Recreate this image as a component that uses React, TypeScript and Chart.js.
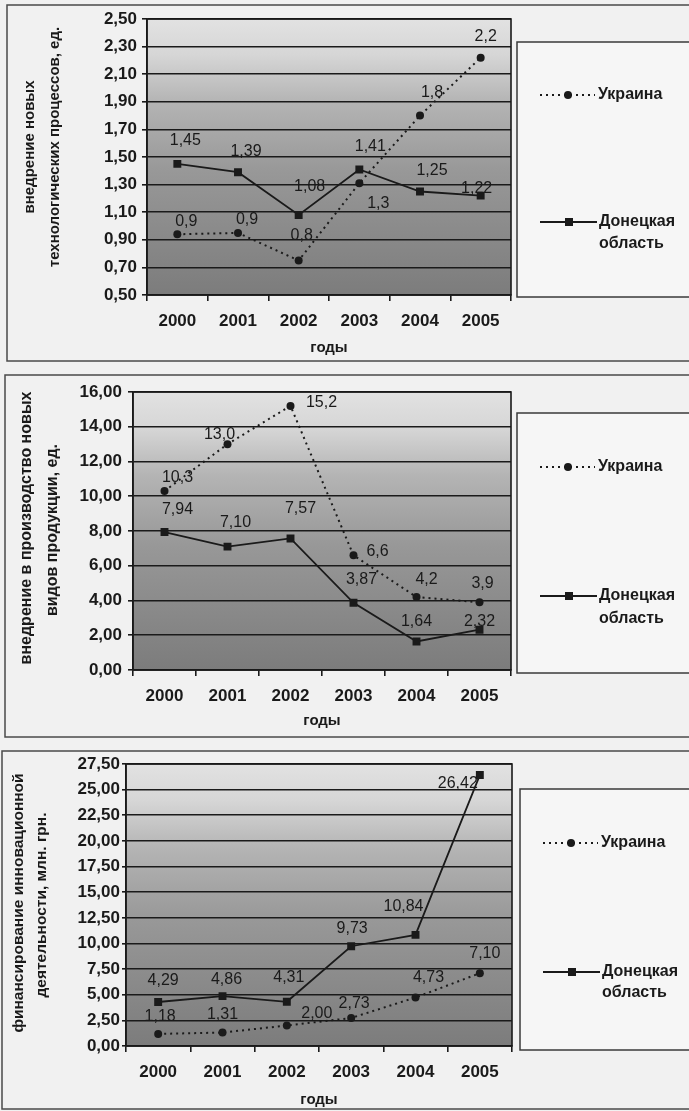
import React, { useEffect, useRef } from "react";
import { Chart, registerables } from "chart.js";

Chart.register(...registerables);

// ---------- data ----------
const years = ["2000", "2001", "2002", "2003", "2004", "2005"];
const seriesNames = ["Украина", "Донецкая", "область"];
const xTitle = "годы";

const techUkraine = [0.94, 0.95, 0.75, 1.31, 1.8, 2.22];
const techDonetsk = [1.45, 1.39, 1.08, 1.41, 1.25, 1.22];
const techTitle = ["внедрение новых", "технологических процессов, ед."];

const prodUkraine = [10.3, 13.0, 15.2, 6.6, 4.2, 3.9];
const prodDonetsk = [7.94, 7.1, 7.57, 3.87, 1.64, 2.32];
const prodTitle = ["внедрение в производство новых", "видов продукции, ед."];

const finUkraine = [1.18, 1.31, 2.0, 2.73, 4.73, 7.1];
const finDonetsk = [4.29, 4.86, 4.31, 9.73, 10.84, 26.42];
const finTitle = ["финансирование инновационной", "деятельности, млн. грн."];

// ---------- styling ----------
const W = 689;
const PAGE_BG = "#f1f1f1";
const INK = "#1a1a1a";
const FONT = "'Liberation Sans', Arial, sans-serif";

const fmt = (v: number, d: number) => v.toFixed(d).replace(".", ",");

type Off = [number, number][];
type Cfg = {
  top: number;
  height: number;
  frame: { x: number; y: number; bottom: number };
  plot: { left: number; right: number; top: number; bottom: number };
  yMin: number;
  yMax: number;
  yStep: number;
  uk: number[];
  dn: number[];
  ukDec: number;
  dnDec: number;
  ukOff: Off;
  dnOff: Off;
  title: string[];
  titlePos: [number, number][];
  titleFont: number;
  xTitleY: number;
  tickLen: number;
  tickPad: number;
  legend: { left: number; top: number; bottom: number; ukY: number; dnY: number; obY: number };
  labelFont: number;
};

const configs: Cfg[] = [
  {
    top: 0,
    height: 368,
    frame: { x: 7, y: 5, bottom: 361 },
    plot: { left: 147, right: 511, top: 19, bottom: 295 },
    yMin: 0.5,
    yMax: 2.5,
    yStep: 0.2,
    uk: techUkraine,
    dn: techDonetsk,
    ukDec: 1,
    dnDec: 2,
    ukOff: [[9, -13], [9, -13], [3, -25], [19, 20], [12, -23], [5, -21]],
    dnOff: [[8, -23], [8, -21], [11, -28], [11, -23], [12, -21], [-4, -7]],
    title: techTitle,
    titlePos: [[30, 147], [55, 147]],
    titleFont: 15,
    xTitleY: 348,
    tickLen: 5,
    tickPad: 5,
    legend: { left: 517, top: 42, bottom: 297, ukY: 95, dnY: 222, obY: 244 },
    labelFont: 16,
  },
  {
    top: 368,
    height: 372,
    frame: { x: 5, y: 7, bottom: 369 },
    plot: { left: 133, right: 511, top: 24, bottom: 302 },
    yMin: 0,
    yMax: 16,
    yStep: 2,
    uk: prodUkraine,
    dn: prodDonetsk,
    ukDec: 1,
    dnDec: 2,
    ukOff: [[13, -13], [-8, -10], [31, -3], [24, -4], [10, -17], [3, -19]],
    dnOff: [[13, -22], [8, -24], [10, -30], [8, -23], [0, -20], [0, -8]],
    title: prodTitle,
    titlePos: [[27, 160], [53, 162]],
    titleFont: 16,
    xTitleY: 353,
    tickLen: 5,
    tickPad: 6,
    legend: { left: 517, top: 45, bottom: 305, ukY: 99, dnY: 228, obY: 251 },
    labelFont: 16,
  },
  {
    top: 740,
    height: 371,
    frame: { x: 2, y: 11, bottom: 369 },
    plot: { left: 126, right: 512, top: 24, bottom: 306 },
    yMin: 0,
    yMax: 27.5,
    yStep: 2.5,
    uk: finUkraine,
    dn: finDonetsk,
    ukDec: 2,
    dnDec: 2,
    ukOff: [[2, -17], [0, -18], [30, -12], [3, -14], [13, -20], [5, -20]],
    dnOff: [[5, -21], [4, -17], [2, -24], [1, -18], [-12, -28], [-22, 9]],
    title: finTitle,
    titlePos: [[19, 163], [42, 165]],
    titleFont: 15.5,
    xTitleY: 360,
    tickLen: 4,
    tickPad: 2,
    legend: { left: 520, top: 49, bottom: 310, ukY: 103, dnY: 232, obY: 253 },
    labelFont: 16,
  },
];

function drawDotted(ctx: CanvasRenderingContext2D, x1: number, x2: number, y: number) {
  ctx.save();
  ctx.strokeStyle = INK;
  ctx.lineWidth = 2;
  ctx.setLineDash([2, 4]);
  ctx.beginPath();
  ctx.moveTo(x1, y);
  ctx.lineTo(x2, y);
  ctx.stroke();
  ctx.restore();
}

function makePlugin(c: Cfg) {
  return {
    id: "deco",
    beforeDraw(chart: any) {
      const ctx: CanvasRenderingContext2D = chart.ctx;
      const { left, top, right, bottom } = chart.chartArea;
      ctx.save();
      ctx.fillStyle = PAGE_BG;
      ctx.fillRect(0, 0, chart.width, chart.height);
      ctx.strokeStyle = "#4a4a4a";
      ctx.lineWidth = 1.5;
      ctx.strokeRect(c.frame.x, c.frame.y, 800, c.frame.bottom - c.frame.y);
      const g = ctx.createLinearGradient(0, top, 0, bottom);
      g.addColorStop(0, "#e2e2e2");
      g.addColorStop(0.13, "#d6d6d6");
      g.addColorStop(0.3, "#b4b4b4");
      g.addColorStop(0.55, "#989898");
      g.addColorStop(1, "#7c7c7c");
      ctx.fillStyle = g;
      ctx.fillRect(left, top, right - left, bottom - top);
      ctx.restore();
    },
    afterDraw(chart: any) {
      const ctx: CanvasRenderingContext2D = chart.ctx;
      const { left, top, right, bottom } = chart.chartArea;
      ctx.save();
      // plot border
      ctx.strokeStyle = INK;
      ctx.lineWidth = 1.6;
      ctx.strokeRect(left, top, right - left, bottom - top);

      // data labels
      ctx.fillStyle = INK;
      ctx.font = `${c.labelFont}px ${FONT}`;
      ctx.textAlign = "center";
      ctx.textBaseline = "middle";
      const sets: [number[], number, Off][] = [
        [c.uk, c.ukDec, c.ukOff],
        [c.dn, c.dnDec, c.dnOff],
      ];
      sets.forEach(([vals, dec, off], di) => {
        const meta = chart.getDatasetMeta(di);
        meta.data.forEach((p: any, j: number) => {
          ctx.fillText(fmt(vals[j], dec), p.x + off[j][0], p.y + off[j][1]);
        });
      });

      // y title (rotated)
      ctx.font = `bold ${c.titleFont}px ${FONT}`;
      c.title.forEach((t, i) => {
        ctx.save();
        ctx.translate(c.titlePos[i][0], c.titlePos[i][1]);
        ctx.rotate(-Math.PI / 2);
        ctx.fillText(t, 0, 0);
        ctx.restore();
      });
      // x title
      ctx.font = `bold 15px ${FONT}`;
      ctx.fillText(xTitle, (left + right) / 2, c.xTitleY);

      // legend
      const L = c.legend;
      ctx.strokeStyle = "#3a3a3a";
      ctx.lineWidth = 1.5;
      ctx.fillStyle = "#f6f6f6";
      ctx.fillRect(L.left, L.top, 800, L.bottom - L.top);
      ctx.strokeRect(L.left, L.top, 800, L.bottom - L.top);
      drawDotted(ctx, L.left + 23, L.left + 78, L.ukY);
      ctx.fillStyle = INK;
      ctx.beginPath();
      ctx.arc(L.left + 51, L.ukY, 4, 0, Math.PI * 2);
      ctx.fill();
      ctx.strokeStyle = INK;
      ctx.lineWidth = 1.8;
      ctx.beginPath();
      ctx.moveTo(L.left + 23, L.dnY);
      ctx.lineTo(L.left + 80, L.dnY);
      ctx.stroke();
      ctx.fillRect(L.left + 52 - 4, L.dnY - 4, 8, 8);
      ctx.font = `bold 16px ${FONT}`;
      ctx.textAlign = "left";
      ctx.fillText(seriesNames[0], L.left + 81, L.ukY);
      ctx.fillText(seriesNames[1], L.left + 82, L.dnY);
      ctx.fillText(seriesNames[2], L.left + 82, L.obY);
      ctx.restore();
    },
  };
}

function Panel({ c }: { c: Cfg }) {
  const ref = useRef<HTMLCanvasElement>(null);
  useEffect(() => {
    const chart = new Chart(ref.current as HTMLCanvasElement, {
      type: "line",
      data: {
        labels: years,
        datasets: [
          {
            label: seriesNames[0],
            data: c.uk,
            borderColor: INK,
            borderWidth: 2,
            borderDash: [2, 4],
            pointStyle: "circle",
            pointRadius: 4,
            pointBackgroundColor: INK,
            pointBorderColor: INK,
            pointBorderWidth: 0,
            tension: 0,
            fill: false,
          },
          {
            label: seriesNames[1] + " " + seriesNames[2],
            data: c.dn,
            borderColor: INK,
            borderWidth: 1.8,
            pointStyle: "rect",
            pointRadius: 5.6,
            pointBackgroundColor: INK,
            pointBorderColor: INK,
            pointBorderWidth: 0,
            tension: 0,
            fill: false,
          },
        ],
      },
      options: {
        responsive: false,
        animation: false,
        devicePixelRatio: 1,
        layout: { padding: { left: 0, top: c.plot.top, right: W - c.plot.right, bottom: 0 } },
        plugins: { legend: { display: false }, tooltip: { enabled: false } },
        scales: {
          x: {
            type: "category",
            offset: true,
            grid: {
              display: true,
              drawOnChartArea: false,
              drawTicks: true,
              tickLength: 6,
              color: INK,
              lineWidth: 1.6,
              offset: true,
            },
            border: { display: true, color: INK, width: 1.6 },
            ticks: {
              color: INK,
              font: { family: FONT, size: 17, weight: "bold" },
              padding: 10,
              maxRotation: 0,
            },
            afterFit: (s: any) => {
              s.height = c.height - c.plot.bottom;
            },
          } as any,
          y: {
            min: c.yMin,
            max: c.yMax,
            grid: {
              color: INK,
              lineWidth: 1.6,
              drawTicks: true,
              tickLength: c.tickLen,
            },
            border: { display: true, color: INK, width: 1.6 },
            ticks: {
              stepSize: c.yStep,
              color: INK,
              font: { family: FONT, size: 17, weight: "bold" },
              padding: c.tickPad,
              callback: (v: any) => fmt(Number(v), 2),
            },
            afterFit: (s: any) => {
              s.width = c.plot.left;
            },
          } as any,
        },
      },
      plugins: [makePlugin(c)],
    });
    return () => chart.destroy();
  }, [c]);
  return (
    <canvas
      ref={ref}
      width={W}
      height={c.height}
      style={{ position: "absolute", left: 0, top: c.top, width: W, height: c.height, display: "block" }}
    />
  );
}

export default function App() {
  return (
    <div
      style={{
        position: "absolute",
        left: 0,
        top: 0,
        width: W,
        height: 1111,
        background: PAGE_BG,
        overflow: "hidden",
      }}
    >
      {configs.map((c, i) => (
        <Panel key={i} c={c} />
      ))}
    </div>
  );
}
